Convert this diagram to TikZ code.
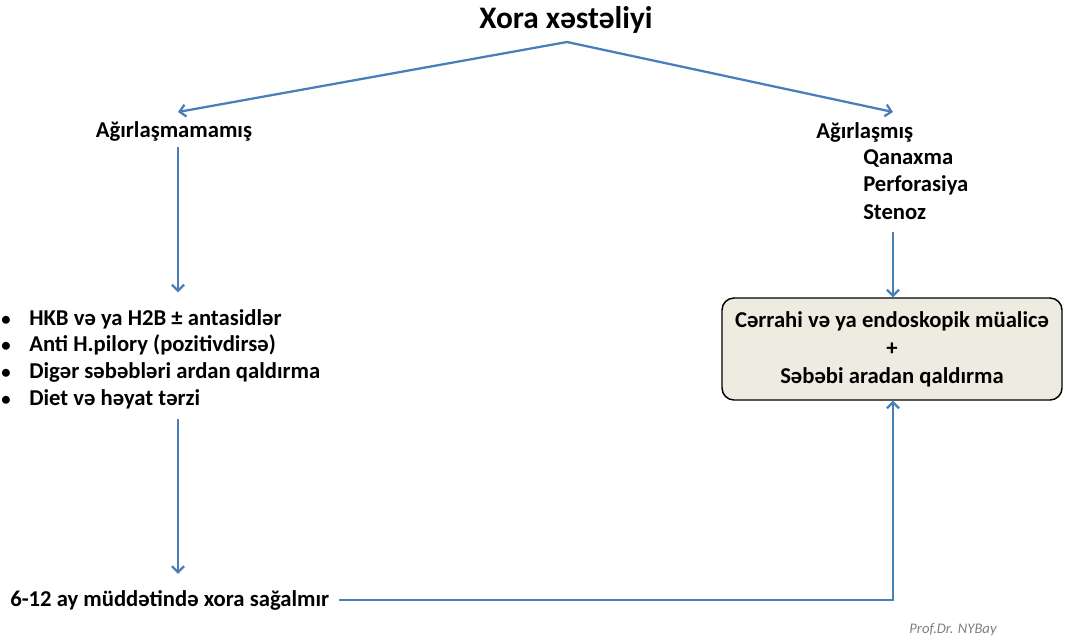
\documentclass[tikz,border=0pt]{standalone}
\usepackage{fontspec}
\setmainfont{Carlito}
\usetikzlibrary{arrows.meta,positioning}
\definecolor{flowblue}{HTML}{4A7EBB}
\definecolor{boxfill}{HTML}{EEECE1}
\newcommand{\itemdot}{\makebox[21pt][l]{\fontsize{14}{14}\selectfont•}}

\begin{document}
\begin{tikzpicture}[x=0.75pt,y=-0.75pt,
	lbl/.style={font=\fontsize{17}{20}\selectfont\bfseries, inner sep=0pt},
	flow/.style={draw=flowblue, line width=1.7pt, -{Straight Barb[length=4.5pt,width=9pt]}},
	treat/.style={lbl, font=\fontsize{17}{21}\selectfont\bfseries, draw=black, line width=1.1pt,
		fill=boxfill, rounded corners=9pt, minimum width=255pt, minimum height=76.5pt, align=center}]
	\useasboundingbox (0,0) rectangle (1065,643);
	% top
	\node (title) at (566,20) {\fontsize{23.5}{26}\selectfont\bfseries Xora xəstəliyi};
	\coordinate (apex) at (567,42);
	\coordinate (lefttip) at (178,112);
	\coordinate (righttip) at (893,112);

	% left branch
	\node[lbl] (mild) at (174,131) {Ağırlaşmamamış};
	\node[lbl, anchor=north west, align=left] (meds) at (1,309) {%
		\itemdot HKB və ya H2B ± antasidlər\\
		\itemdot Anti H.pilory (pozitivdirsə)\\
		\itemdot Digər səbəbləri ardan qaldırma\\
		\itemdot Diet və həyat tərzi};
	\node[lbl, anchor=west] (heal) at (10,600) {6-12 ay müddətində xora sağalmır};

	% right branch
	\node[lbl, anchor=west] (severe) at (816,132) {Ağırlaşmış};
	\node[lbl, anchor=west] (bleed) at (863,158) {Qanaxma};
	\node[lbl, anchor=west] (perf) at (863,185) {Perforasiya};
	\node[lbl, anchor=west] (sten) at (863,212) {Stenoz};
	\node[treat] (treat) at (892,349) {Cərrahi və ya endoskopik müalicə\\+\\Səbəbi aradan qaldırma};

	\node[font=\fontsize{11}{13}\selectfont\itshape, text=gray] (sign) at (953,630) {Prof.Dr. NYBay};

	\draw[flow] (apex) -- (lefttip);
	\draw[flow] (apex) -- (righttip);
	\draw[flow, shorten <=4.5pt, shorten >=12.5pt] (mild.south -| lefttip) -- (meds.north -| lefttip);
	\draw[flow, shorten <=7.5pt, shorten >=12pt] (meds.south -| lefttip) -- (heal.north -| lefttip);
	\draw[flow, shorten <=9pt] (sten.south -| righttip) -- (treat.north -| righttip);
	\draw[flow, shorten <=7.5pt] (heal.east) -| (treat.south -| righttip);
\end{tikzpicture}
\end{document}
